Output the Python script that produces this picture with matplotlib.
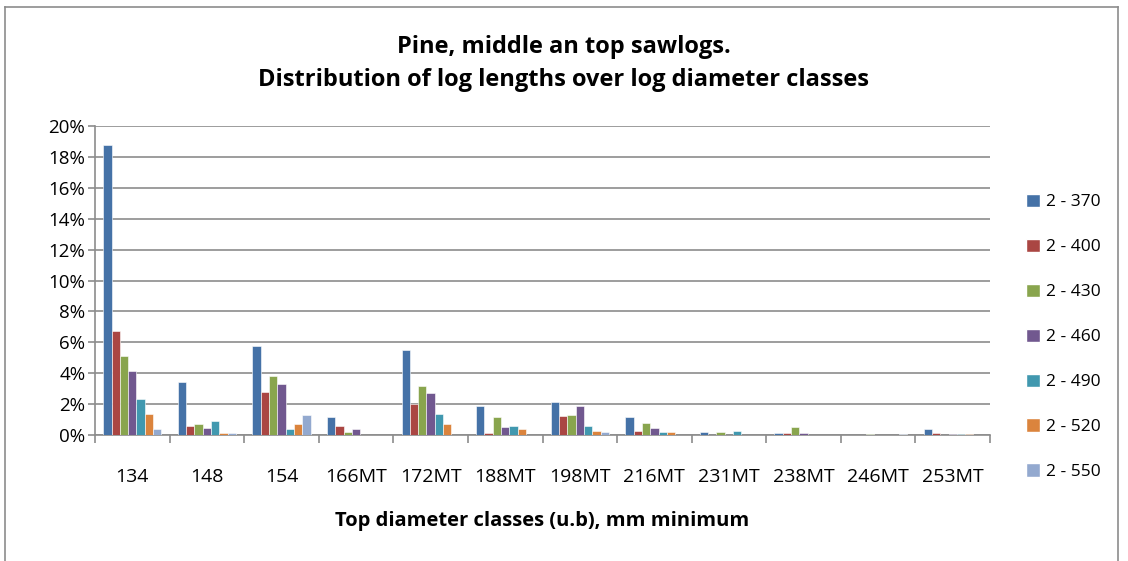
import numpy as np
import matplotlib.pyplot as plt
from matplotlib.lines import Line2D
from matplotlib.patches import Patch

plt.rcParams['font.family'] = ['Open Sans', 'DejaVu Sans']

# diameter classes and log length series (share of logs, %)
classes = ["134", "148", "154", "166MT", "172MT", "188MT", "198MT",
           "216MT", "231MT", "238MT", "246MT", "253MT"]
series_names = ["2 - 370", "2 - 400", "2 - 430", "2 - 460", "2 - 490", "2 - 520", "2 - 550"]

len_370 = [18.8, 3.46, 5.79, 1.19, 5.49, 1.86, 2.12, 1.15, 0.17, 0.10, 0.00, 0.37]
len_400 = [6.72, 0.61, 2.79, 0.61, 1.99, 0.15, 1.21, 0.24, 0.00, 0.15, 0.00, 0.10]
len_430 = [5.12, 0.74, 3.83, 0.22, 3.16, 1.19, 1.30, 0.76, 0.17, 0.55, 0.08, 0.00]
len_460 = [4.15, 0.46, 3.33, 0.37, 2.70, 0.52, 1.90, 0.45, 0.00, 0.15, 0.00, 0.08]
len_490 = [2.34, 0.91, 0.37, 0.00, 1.36, 0.61, 0.61, 0.17, 0.24, 0.00, 0.00, 0.08]
len_520 = [1.34, 0.15, 0.74, 0.00, 0.74, 0.37, 0.24, 0.17, 0.00, 0.00, 0.00, 0.08]
len_550 = [0.37, 0.15, 1.28, 0.00, 0.00, 0.00, 0.17, 0.00, 0.00, 0.00, 0.08, 0.00]

all_series = [len_370, len_400, len_430, len_460, len_490, len_520, len_550]
colors = ["#4572A7", "#AA4643", "#89A54E", "#71588F", "#4198AF", "#DB843D", "#93A9CF"]

fig = plt.figure(figsize=(11.28, 5.61), dpi=100)
ax = fig.add_axes([95 / 1128, 1 - 435 / 561, 895 / 1128, 309 / 561])

x = np.arange(len(classes))
bw = 0.78 / 7
for i, (vals, col) in enumerate(zip(all_series, colors)):
    ax.bar(x - 0.39 + bw * (i + 0.5), vals, width=bw, color=col,
           edgecolor="white", linewidth=0.4, zorder=3)

ax.set_xlim(-0.5, len(classes) - 0.5)
ax.set_ylim(0, 20)
ax.set_yticks(np.arange(0, 21, 2))
ax.set_yticklabels([f"{v}%" for v in range(0, 21, 2)], fontsize=13.5)
ax.yaxis.grid(True, color="#8c8c8c", linewidth=1.2, zorder=0)
ax.set_xticks(x)
ax.set_xticklabels(classes, fontsize=14)
ax.set_xticks(np.arange(-0.5, len(classes)), minor=True)
ax.tick_params(axis="x", which="major", length=0, pad=24)
ax.tick_params(axis="x", which="minor", length=6, color="#8c8c8c", width=1.2)
ax.tick_params(axis="y", length=5, color="#8c8c8c", width=1.2, pad=2)
for s in ["top", "right"]:
    ax.spines[s].set_visible(False)
ax.spines["left"].set_color("#8c8c8c")
ax.spines["bottom"].set_color("#8c8c8c")
ax.spines["left"].set_linewidth(1.2)
ax.spines["bottom"].set_linewidth(1.2)

ax.set_xlabel("Top diameter classes (u.b), mm minimum", fontsize=14.5,
              fontweight="bold", labelpad=18)

fig.text(0.5, 1 - 47 / 561, "Pine, middle an top sawlogs.", ha="center", va="center",
         fontsize=17, fontweight="bold")
fig.text(0.5, 1 - 80 / 561, "Distribution of log lengths over log diameter classes",
         ha="center", va="center", fontsize=17, fontweight="bold")

handles = [Patch(facecolor=c, edgecolor="white") for c in colors]
fig.legend(handles, series_names, loc="upper left", bbox_to_anchor=(1010 / 1128, 1 - 178 / 561),
           frameon=False, fontsize=12.5, labelspacing=1.63, handlelength=0.8,
           handleheight=0.8, handletextpad=0.4)

# outer chart frame
fig.add_artist(Line2D([5 / 1128, 5 / 1128], [0, 1 - 7 / 561], color="#8c8c8c", lw=1.2))
fig.add_artist(Line2D([5 / 1128, 1118 / 1128], [1 - 7 / 561, 1 - 7 / 561], color="#8c8c8c", lw=1.2))
fig.add_artist(Line2D([1118 / 1128, 1118 / 1128], [0, 1 - 7 / 561], color="#8c8c8c", lw=1.2))

fig.savefig("out.png", dpi=100)
